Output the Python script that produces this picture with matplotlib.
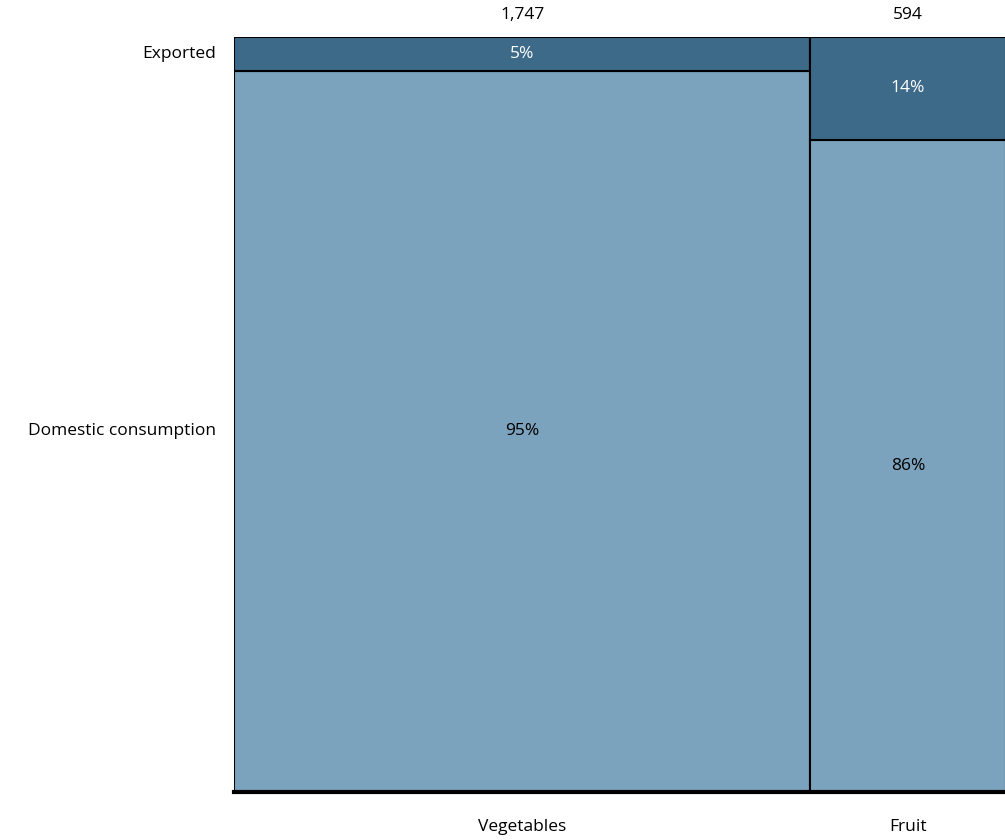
import matplotlib
matplotlib.use("Agg")
import matplotlib.pyplot as plt
import numpy as np

plt.rcParams['font.family'] = ['Open Sans', 'DejaVu Sans']

categories = ["Vegetables", "Fruit"]
totals = [1747, 594]
segments = ["Exported", "Domestic consumption"]
exported = [0.045, 0.136]
domestic = [0.955, 0.864]
pct_labels_exp = ["5%", "14%"]
pct_labels_dom = ["95%", "86%"]

dark = '#3D6A89'
light = '#7CA3BD'
fs = 12.5

fig = plt.figure(figsize=(10.05, 8.4), dpi=100)
ax = fig.add_axes([234 / 1005, 48 / 840, 772 / 1005, 755 / 840])

widths = np.array(totals, dtype=float)
lefts = np.concatenate([[0], np.cumsum(widths)[:-1]])
total = widths.sum()

# domestic at bottom, exported on top
ax.bar(lefts, domestic, width=widths, align='edge', color=light,
       edgecolor='black', linewidth=1.5)
ax.bar(lefts, exported, width=widths, bottom=domestic, align='edge', color=dark,
       edgecolor='black', linewidth=1.5)

for i in range(len(categories)):
    cx = lefts[i] + widths[i] / 2
    ax.text(cx, domestic[i] + exported[i] / 2, pct_labels_exp[i], ha='center', va='center',
            color='white', fontsize=fs)
    ax.text(cx, domestic[i] / 2, pct_labels_dom[i], ha='center', va='center',
            color='black', fontsize=fs)
    ax.text(cx, 1.029, f"{totals[i]:,}", ha='center', va='center', fontsize=fs)
    ax.text(cx, -0.046, categories[i], ha='center', va='center', fontsize=fs)

# row labels follow the first column
xoff = -18 / 772 * total
ax.text(xoff, domestic[0] + exported[0] / 2, segments[0], ha='right', va='center', fontsize=fs)
ax.text(xoff, domestic[0] / 2, segments[1], ha='right', va='center', fontsize=fs)

ax.set_xlim(0, total)
ax.set_ylim(0, 1)
ax.axhline(0, color='black', linewidth=3, clip_on=False)
for s in ax.spines.values():
    s.set_visible(False)
ax.set_xticks([])
ax.set_yticks([])

fig.savefig("out.png", dpi=100)
